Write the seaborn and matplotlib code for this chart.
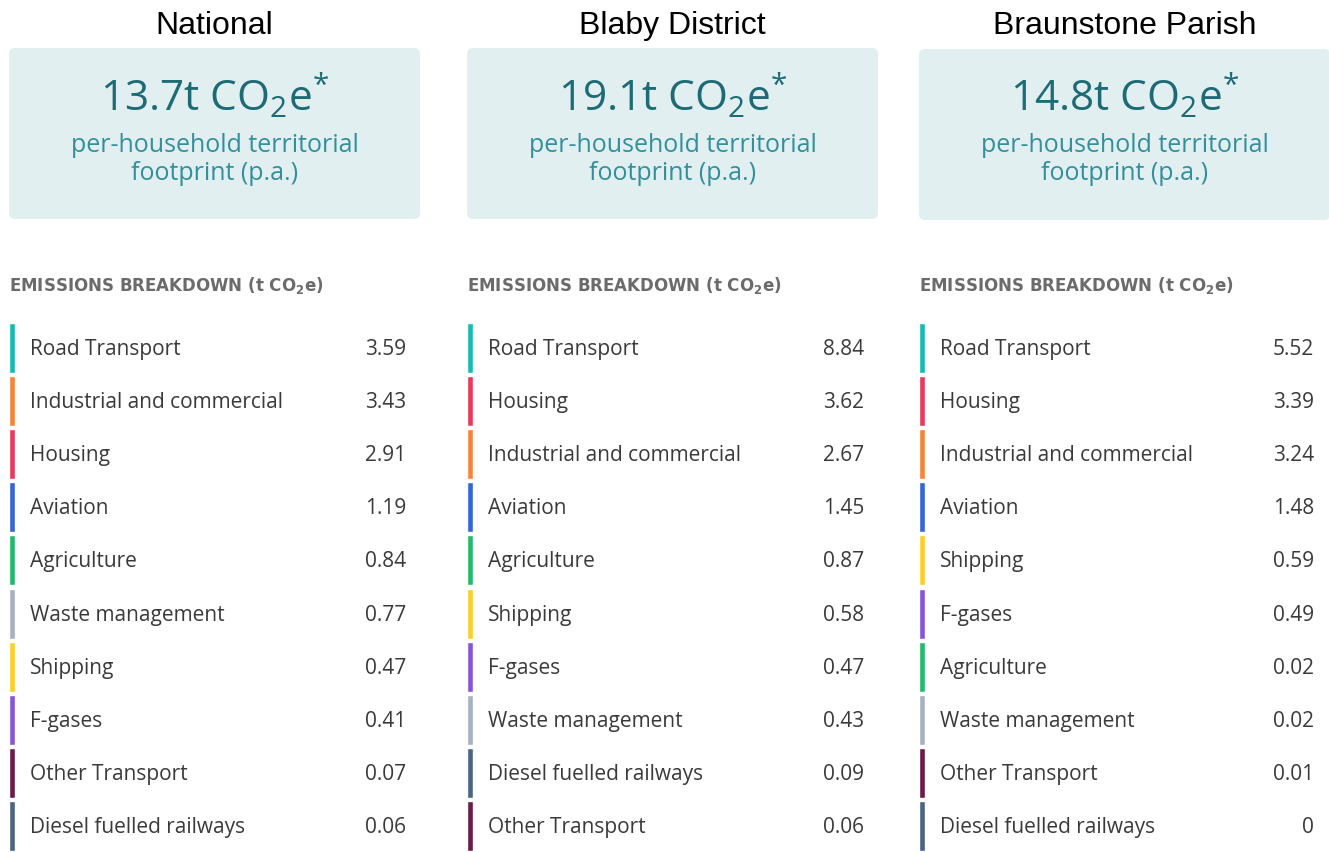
import numpy as np
import pandas as pd
import matplotlib
matplotlib.use("Agg")
import matplotlib.pyplot as plt
from matplotlib.patches import FancyBboxPatch
import seaborn as sns

# data
regions = ["National", "Blaby District", "Braunstone Parish"]
footprints = ["13.7", "19.1", "14.8"]

national_cats = ["Road Transport", "Industrial and commercial", "Housing", "Aviation",
                 "Agriculture", "Waste management", "Shipping", "F-gases",
                 "Other Transport", "Diesel fuelled railways"]
national_vals = ["3.59", "3.43", "2.91", "1.19", "0.84", "0.77", "0.47", "0.41", "0.07", "0.06"]

blaby_cats = ["Road Transport", "Housing", "Industrial and commercial", "Aviation",
              "Agriculture", "Shipping", "F-gases", "Waste management",
              "Diesel fuelled railways", "Other Transport"]
blaby_vals = ["8.84", "3.62", "2.67", "1.45", "0.87", "0.58", "0.47", "0.43", "0.09", "0.06"]

braunstone_cats = ["Road Transport", "Housing", "Industrial and commercial", "Aviation",
                   "Shipping", "F-gases", "Agriculture", "Waste management",
                   "Other Transport", "Diesel fuelled railways"]
braunstone_vals = ["5.52", "3.39", "3.24", "1.48", "0.59", "0.49", "0.02", "0.02", "0.01", "0"]

sector_colours = {
    "Road Transport": "#14bcb4",
    "Industrial and commercial": "#f7843a",
    "Housing": "#e93a5e",
    "Aviation": "#3566d6",
    "Agriculture": "#22bb6c",
    "Waste management": "#a8b1c2",
    "Shipping": "#fdcf2a",
    "F-gases": "#8a55d4",
    "Other Transport": "#6b1c4b",
    "Diesel fuelled railways": "#4a6483",
}

panels = [(national_cats, national_vals), (blaby_cats, blaby_vals), (braunstone_cats, braunstone_vals)]

sns.set_style("white")
plt.rcParams['font.family'] = ['Open Sans', 'DejaVu Sans']
plt.rcParams['mathtext.fontset'] = 'custom'
plt.rcParams['mathtext.rm'] = 'Open Sans'

W, H = 1329, 852
fig = plt.figure(figsize=(W / 100, H / 100), dpi=100)

# background axes in pixel coordinates for titles and cards
bg = fig.add_axes([0, 0, 1, 1])
bg.set_xlim(0, W)
bg.set_ylim(H, 0)
bg.axis("off")

panel_x = [9, 467, 919]
panel_w = 411
box_top = [48, 48, 49]

for i, (name, fp) in enumerate(zip(regions, footprints)):
    x0 = panel_x[i]
    cx = x0 + panel_w / 2
    bg.text(cx, 26, name, ha="center", va="center", fontsize=23,
            family=["Liberation Sans", "DejaVu Sans"], color="black")
    card = FancyBboxPatch((x0 + 6, box_top[i] + 6), panel_w - 12, 171 - 12,
                          boxstyle="round,pad=6", fc="#e2eff1", ec="none")
    bg.add_patch(card)
    bg.text(cx, 96, fp + r"t CO$_\mathregular{2}$e$^\mathregular{*}$", ha="center", va="center",
            fontsize=30.5, color="#1d6b74")
    bg.text(cx, 146, "per-household territorial", ha="center", va="center",
            fontsize=18, color="#33909b")
    bg.text(cx, 173, "footprint (p.a.)", ha="center", va="center",
            fontsize=18, color="#33909b")
    bg.text(x0, 286, r"EMISSIONS BREAKDOWN (t CO$_\mathregular{2}$e)", ha="left", va="center",
            fontsize=12, fontweight="bold", color="#6b6b6b",
            family=["DejaVu Sans"])

# row lists
row_top, pitch = 321, 53.2
for i, (cats, vals) in enumerate(panels):
    x0 = panel_x[i]
    ax = fig.add_axes([x0 / W, 0, panel_w / W, (H - row_top) / H])
    df = pd.DataFrame({"sector": cats, "value": vals, "stripe": np.full(len(cats), 6.0)})
    sns.barplot(data=df, y="sector", x="stripe", hue="sector", palette=sector_colours,
                orient="h", width=0.94, legend=False, ax=ax, saturation=1)
    ax.set_xlim(0, panel_w)
    ax.set_ylim(-0.5 + (H - row_top) / pitch, -0.5)
    for j, (c, v) in enumerate(zip(cats, vals)):
        ax.text(21, j + 0.03, c, ha="left", va="center", fontsize=15, color="#3a3a3a")
        ax.text(397 if i < 2 else 395, j + 0.03, v, ha="right", va="center", fontsize=15, color="#3a3a3a")
    ax.axis("off")

fig.savefig("out.png", dpi=100)
